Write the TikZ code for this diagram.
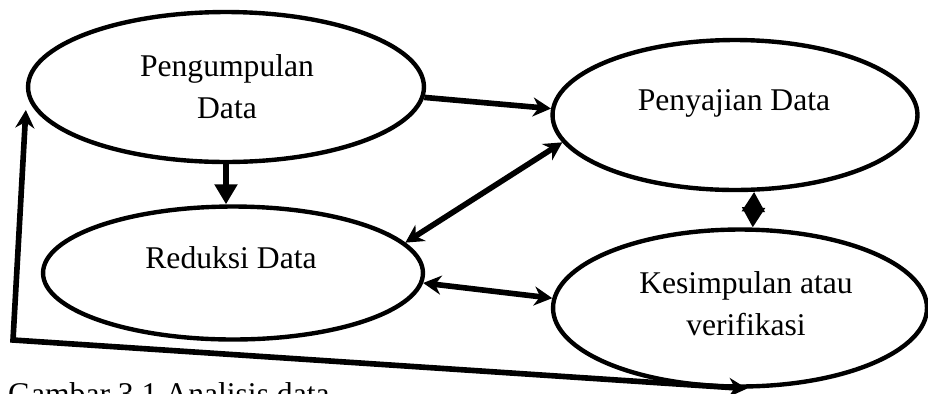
\documentclass[tikz,border=0pt]{standalone}
\usepackage{fontspec}
\setmainfont{Liberation Serif}
\usetikzlibrary{shapes.geometric,arrows.meta}

\begin{document}
\begin{tikzpicture}[x=0.02cm,y=-0.02cm]
        \tikzstyle{elips}=[ellipse, draw, line width=2.5pt, inner sep=0pt]
        \tikzstyle{teks}=[font=\fontsize{18}{23.6}\selectfont, align=center, anchor=base]
        \tikzstyle{panah}=[line width=3.2pt, -{Stealth[length=3.6mm,width=3.8mm]}]
        \tikzstyle{duapanah}=[line width=3.2pt, {Stealth[length=3.6mm,width=3.8mm]}-{Stealth[length=3.6mm,width=3.8mm]}]

        \path[use as bounding box, clip] (0,0) rectangle (928,393);

        \node[elips, minimum width=7.92cm, minimum height=3cm]    (pgd) at (226,87) {};
        \node[elips, minimum width=7.3cm, minimum height=3cm]     (pen) at (735,115) {};
        \node[elips, minimum width=7.6cm, minimum height=2.66cm]  (red) at (233,273) {};
        \node[elips, minimum width=7.48cm, minimum height=3.14cm] (kes) at (740,308) {};

        \node[teks] (pgd-t) at (227,118) {Pengumpulan\\Data};
        \node[teks] (pen-t) at (734,110) {Penyajian Data};
        \node[teks] (red-t) at (231,268) {Reduksi Data};
        \node[teks] (kes-t) at (746,335) {Kesimpulan atau\\verifikasi};

        \coordinate (sudut) at (13,340);

        \draw[panah] (pgd.-3) -- (pen.178);
        \draw[line width=3.2pt, -{Triangle[length=4mm,width=4.4mm]}] (pgd.south) -- (pgd.south |- red.north);
        \draw[duapanah] (pen.189) -- (red.10);
        \draw[duapanah] (red.-3) -- (kes.177);
        \draw[line width=3.2pt, {Triangle[length=4mm,width=4.4mm]}-{Triangle[length=4mm,width=4.4mm]}] (pen.-76) -- (kes.81);
        \draw[duapanah] (kes.-85) -- (sudut) -- ([yshift=-0.46cm]pgd.west);

        \node[teks, anchor=base west] (judul) at (2,404) {Gambar 3.1 Analisis data};
    \end{tikzpicture}
\end{document}
